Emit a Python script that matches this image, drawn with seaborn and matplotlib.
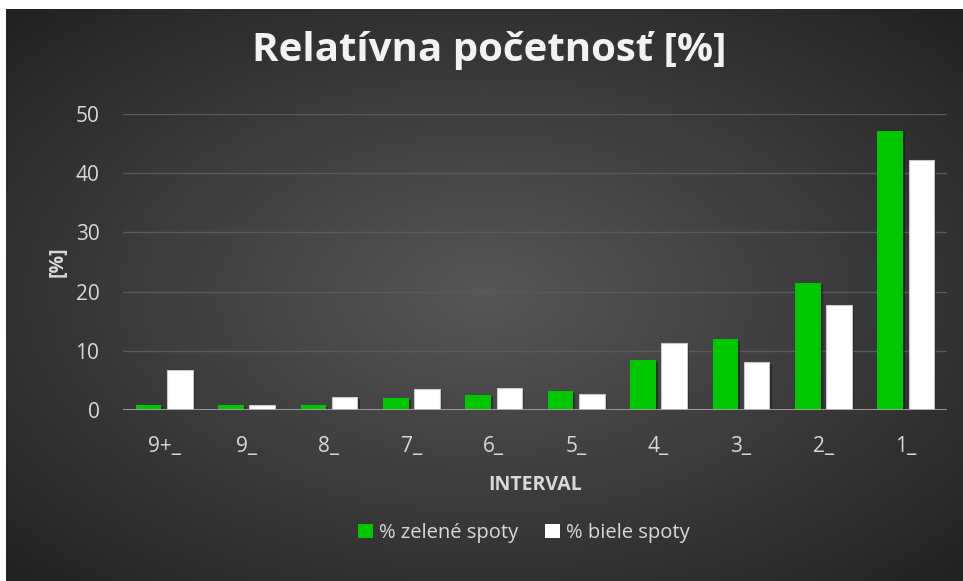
import numpy as np
import pandas as pd
import matplotlib
matplotlib.use('Agg')
import matplotlib.pyplot as plt
import matplotlib.patheffects as pe
from matplotlib.patches import Patch
import seaborn as sns

# data
intervals = ['9+_', '9_', '8_', '7_', '6_', '5_', '4_', '3_', '2_', '1_']
zelene = [0.8, 0.85, 0.8, 2.0, 2.5, 3.25, 8.4, 12.0, 21.5, 47.05]
biele = [6.8, 0.85, 2.2, 3.6, 3.65, 2.7, 11.35, 8.15, 17.7, 42.3]
series_names = ['% zelené spoty', '% biele spoty']

df = pd.DataFrame({
    'interval': intervals * 2,
    'value': zelene + biele,
    'series': [series_names[0]] * len(intervals) + [series_names[1]] * len(intervals),
})

sns.set_style('dark')
plt.rcParams['font.family'] = ['Open Sans', 'DejaVu Sans']

fig = plt.figure(figsize=(9.63, 5.81), dpi=100)
fig.patch.set_facecolor('white')

# radial dark gradient background
bg = fig.add_axes([6 / 963, 0, 957 / 963, 1 - 9 / 581])
bg.set_axis_off()
yy, xx = np.mgrid[0:1:300j, 0:1:500j]
r = np.sqrt(((xx - 0.5) / 0.75) ** 2 + ((yy - 0.5) / 0.75) ** 2)
shade = np.clip(0.34 - 0.22 * r, 0.14, 0.34)
bg.imshow(np.dstack([shade] * 3), aspect='auto', extent=[0, 1, 0, 1], interpolation='bilinear')

ax = fig.add_axes([123 / 963, 1 - 410 / 581, 824 / 963, 296 / 581])
ax.set_facecolor('none')
palette = {series_names[0]: '#00c800', series_names[1]: '#ffffff'}
sns.barplot(data=df, x='interval', y='value', hue='series', palette=palette,
            width=0.76, gap=0.18, ax=ax, saturation=1, legend=False)

shadow = [pe.SimplePatchShadow(offset=(1.5, -1.5), shadow_rgbFace='black', alpha=0.35), pe.Normal()]
for p in ax.patches:
    fc = p.get_facecolor()
    if fc[0] > 0.9:
        p.set_edgecolor('#c8c8c8')
        p.set_linewidth(0.8)
    else:
        p.set_edgecolor('none')
    p.set_path_effects(shadow)

ax.set_ylim(0, 50)
ax.set_xlim(-0.5, 9.5)
ax.set_yticks([0, 10, 20, 30, 40, 50])
ax.grid(axis='y', color='#5a5a5a', linewidth=1)
ax.grid(axis='x', visible=False)
ax.set_axisbelow(True)
ax.axhline(0, color='#a6a6a6', linewidth=2, zorder=1)
for s in ax.spines.values():
    s.set_visible(False)
ax.tick_params(axis='both', length=0, colors='#d9d9d9', labelsize=15)
ax.tick_params(axis='x', pad=19)
ax.tick_params(axis='y', pad=17)

ax.set_xlabel('INTERVAL', color='#d9d9d9', fontsize=14, fontweight='bold', labelpad=13)
ax.set_ylabel('[%]', color='#d9d9d9', fontsize=14, fontweight='bold', labelpad=6)

fig.text(489 / 963, 1 - 50 / 581, 'Relatívna početnosť [%]', ha='center', va='center',
         color='#f2f2f2', fontsize=29, fontweight='bold')

handles = [Patch(facecolor=palette[n], edgecolor='none') for n in series_names]
fig.legend(handles, series_names, loc='center', bbox_to_anchor=(524 / 963, 1 - 533 / 581),
           ncol=2, frameon=False, fontsize=14.5, labelcolor='#d9d9d9',
           handlelength=0.75, handleheight=0.75, handletextpad=0.3, columnspacing=1.3)

fig.savefig('out.png', dpi=100)
